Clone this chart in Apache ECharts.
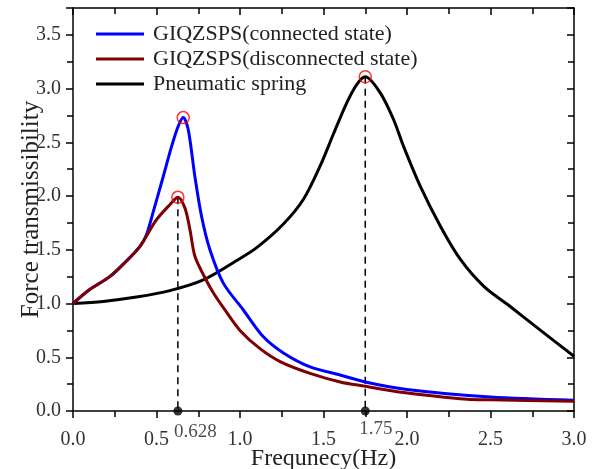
<!DOCTYPE html>
<html>
<head>
<meta charset="utf-8">
<script src="https://cdn.jsdelivr.net/npm/echarts@6/dist/echarts.min.js"></script>
<style>html,body{margin:0;padding:0;background:#fff}#c{width:595px;height:469px}</style>
</head>
<body>
<div id="c"></div>
<script>
// ---- data ----
const seriesNames = ['GIQZSPS(connected state)', 'GIQZSPS(disconnected state)', 'Pneumatic spring'];
const xTickLabels = ['0.0', '0.5', '1.0', '1.5', '2.0', '2.5', '3.0'];
const yTickLabels = ['0.0', '0.5', '1.0', '1.5', '2.0', '2.5', '3.0', '3.5'];

const connected = [
  [0, 1.0], [0.10, 1.13], [0.22, 1.25], [0.31, 1.38], [0.40, 1.53], [0.44, 1.64],
  [0.48, 1.85], [0.54, 2.18], [0.59, 2.46], [0.63, 2.65], [0.66, 2.73], [0.69, 2.62],
  [0.73, 2.18], [0.77, 1.81], [0.82, 1.50], [0.90, 1.19], [1.02, 0.94], [1.14, 0.69],
  [1.26, 0.54], [1.42, 0.41], [1.60, 0.335], [1.75, 0.27], [2.0, 0.20], [2.5, 0.13], [3.0, 0.10]
];
const disconnected = [
  [0, 1.0], [0.10, 1.13], [0.22, 1.25], [0.31, 1.38], [0.40, 1.53], [0.50, 1.78],
  [0.58, 1.92], [0.628, 1.99], [0.67, 1.89], [0.70, 1.69], [0.73, 1.44], [0.79, 1.24],
  [0.84, 1.10], [0.91, 0.94], [1.0, 0.75], [1.12, 0.58], [1.24, 0.46], [1.42, 0.35],
  [1.60, 0.27], [1.75, 0.23], [1.94, 0.18], [2.36, 0.11], [2.5, 0.105], [3.0, 0.09]
];
const pneumatic = [
  [0, 1.0], [0.18, 1.02], [0.38, 1.06], [0.58, 1.12], [0.78, 1.22], [0.98, 1.40],
  [1.10, 1.52], [1.26, 1.74], [1.38, 1.97], [1.48, 2.28], [1.56, 2.58], [1.64, 2.87],
  [1.70, 3.04], [1.75, 3.11], [1.84, 2.96], [1.92, 2.71], [1.98, 2.46], [2.08, 2.09],
  [2.20, 1.72], [2.32, 1.41], [2.46, 1.16], [2.62, 0.97], [2.80, 0.75], [3.0, 0.51]
];
const peaks = [[0.66, 2.73], [0.628, 1.99], [1.75, 3.11]];
const resonanceFreqs = [0.628, 1.75];
const resonanceLabels = ['0.628', '1.75'];
const resonancePeakValues = [1.99, 3.11];

// ---- chart ----
const FONT = 'Liberation Serif';
const chart = echarts.init(document.getElementById('c'), null, {renderer: 'canvas'});
const fmt = v => {
  const s = v.toFixed(1);
  return Math.abs(v * 2 - Math.round(v * 2)) < 1e-6 && (xTickLabels.includes(s) || yTickLabels.includes(s)) ? s : '';
};
const axisLine = {show: true, onZero: false, lineStyle: {color: '#000', width: 1.5}};
const tickStyle = {color: '#000', width: 1.5};
const dashSeries = resonanceFreqs.map((f, i) => ({
  type: 'line', data: [[f, resonancePeakValues[i]], [f, 0]], symbol: 'none', silent: true,
  lineStyle: {color: '#000', width: 1.5, type: [7, 5]}, z: 1
}));
const curve = (name, data, color) => ({
  name, type: 'line', data, symbol: 'none', smooth: 0.3,
  lineStyle: {color, width: 3}, itemStyle: {color}, z: 3
});
chart.setOption({
  animation: false,
  backgroundColor: '#fff',
  grid: {left: 73, right: 21, top: 8, bottom: 58, containLabel: false, outerBoundsMode: 'none'},
  legend: {
    data: seriesNames.map(n => ({name: n, icon: 'rect'})), orient: 'vertical', left: 91, top: 18,
    itemWidth: 48, itemHeight: 3, itemGap: 3,
    textStyle: {fontFamily: FONT, fontSize: 22, color: '#222', lineHeight: 22, padding: [0, 0, 0, 4]}
  },
  xAxis: [{
    type: 'value', min: 0, max: 3, interval: 0.5, position: 'bottom',
    name: 'Frequnecy(Hz)', nameLocation: 'middle', nameGap: 36, nameMoveOverlap: false,
    nameTextStyle: {fontFamily: FONT, fontSize: 24, color: '#222'},
    axisLine, axisTick: {show: true, inside: false, length: 7, lineStyle: tickStyle},
    minorTick: {show: true, splitNumber: 2, length: 6, lineStyle: tickStyle},
    axisLabel: {fontFamily: FONT, fontSize: 20, color: '#333', margin: 19, formatter: fmt},
    splitLine: {show: false}
  }, {
    type: 'value', min: 0, max: 3, interval: 0.5, position: 'top',
    axisLine, axisTick: {show: true, inside: true, length: 7, lineStyle: tickStyle},
    minorTick: {show: true, splitNumber: 2, length: 6, lineStyle: tickStyle},
    axisLabel: {show: false}, splitLine: {show: false}
  }],
  yAxis: [{
    type: 'value', min: 0, max: 3.75, interval: 0.5, position: 'left',
    name: 'Force transmissibility', nameLocation: 'middle', nameGap: 29, nameMoveOverlap: false,
    nameTextStyle: {fontFamily: FONT, fontSize: 25, color: '#222'},
    axisLine, axisTick: {show: true, inside: false, length: 7, lineStyle: tickStyle},
    minorTick: {show: true, splitNumber: 2, length: 6, lineStyle: tickStyle},
    axisLabel: {fontFamily: FONT, fontSize: 20, color: '#333', margin: 12, formatter: fmt},
    splitLine: {show: false}
  }, {
    type: 'value', min: 0, max: 3.75, interval: 0.5, position: 'right',
    axisLine, axisTick: {show: true, inside: true, length: 7, lineStyle: tickStyle},
    minorTick: {show: true, splitNumber: 2, length: 6, lineStyle: tickStyle},
    axisLabel: {show: false}, splitLine: {show: false}
  }],
  series: [
    ...dashSeries,
    curve(seriesNames[2], pneumatic, '#000000'),
    curve(seriesNames[0], connected, '#0000ff'),
    curve(seriesNames[1], disconnected, '#7f0000'),
    {
      type: 'scatter', data: peaks, symbol: 'circle', symbolSize: 12, silent: true,
      itemStyle: {color: 'rgba(0,0,0,0)', borderColor: '#ff0000', borderWidth: 1.5}, z: 5
    },
    {
      type: 'scatter', data: resonanceFreqs.map((f, i) => ({value: [f, 0], label: {formatter: resonanceLabels[i], offset: i === 0 ? [-4, 2] : [-6, -1]}})),
      symbol: 'circle', symbolSize: 9, clip: false, silent: true, itemStyle: {color: '#000'}, z: 6,
      label: {show: true, position: 'bottom', align: 'left', fontFamily: FONT, fontSize: 19, color: '#222', distance: 5}
    }
  ]
});
</script>
</body>
</html>
